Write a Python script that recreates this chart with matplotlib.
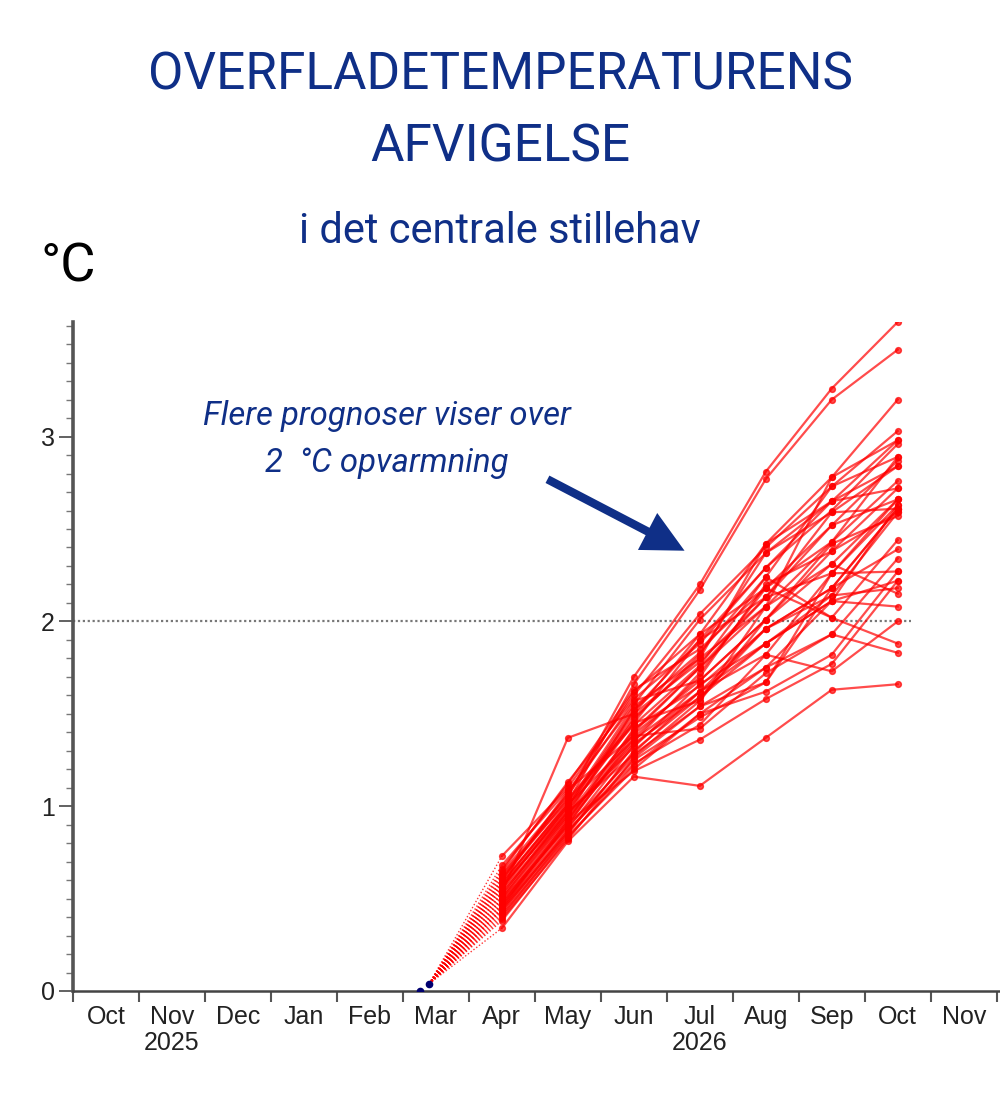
import matplotlib
matplotlib.use('Agg')
import matplotlib.pyplot as plt
import matplotlib.transforms as mtransforms
from matplotlib.patches import FancyArrowPatch
import numpy as np

# Month axis: index 0 = Oct 2025 ... 13 = Nov 2026
months = ['Oct', 'Nov', 'Dec', 'Jan', 'Feb', 'Mar', 'Apr', 'May', 'Jun', 'Jul', 'Aug', 'Sep', 'Oct', 'Nov']
years = ['2025', '2026']
year_pos = [1, 9]

# Observed anomalies (late Feb / early Mar)
obs_x = [4.76, 4.90]
obs_y = [0.00, 0.04]

# Forecast months Apr..Oct 2026
fc_x = [6, 7, 8, 9, 10, 11, 12]

members = [
    [0.62, 1.05, 1.70, 2.20, 2.81, 3.26, 3.62],
    [0.58, 1.02, 1.66, 2.17, 2.77, 3.20, 3.47],
    [0.55, 1.00, 1.50, 1.93, 2.42, 2.78, 3.20],
    [0.73, 1.10, 1.60, 2.04, 2.40, 2.73, 3.03],
    [0.60, 1.08, 1.55, 2.01, 2.37, 2.65, 2.98],
    [0.52, 0.98, 1.45, 1.90, 2.29, 2.60, 2.96],
    [0.50, 0.95, 1.52, 1.83, 2.24, 2.73, 2.89],
    [0.66, 1.12, 1.63, 1.85, 2.18, 2.52, 2.87],
    [0.48, 0.93, 1.40, 1.75, 2.13, 2.59, 2.84],
    [0.56, 0.99, 1.48, 1.80, 2.08, 2.43, 2.76],
    [0.45, 0.90, 1.37, 1.70, 2.20, 2.38, 2.72],
    [0.64, 1.06, 1.57, 1.68, 2.01, 2.31, 2.66],
    [0.53, 1.37, 1.50, 1.78, 2.13, 2.26, 2.63],
    [0.47, 0.92, 1.42, 1.65, 1.96, 2.18, 2.61],
    [0.40, 0.85, 1.30, 1.59, 1.88, 2.14, 2.59],
    [0.61, 1.04, 1.45, 1.57, 2.01, 2.42, 2.57],
    [0.44, 0.88, 1.33, 1.62, 1.82, 2.26, 2.66],
    [0.57, 0.97, 1.28, 1.54, 1.75, 2.11, 2.63],
    [0.50, 0.94, 1.35, 1.72, 2.18, 2.02, 2.44],
    [0.42, 0.86, 1.25, 1.48, 1.67, 2.18, 2.39],
    [0.68, 1.09, 1.38, 1.42, 1.72, 1.93, 2.34],
    [0.38, 0.83, 1.22, 1.50, 1.62, 1.82, 2.27],
    [0.46, 0.91, 1.19, 1.36, 1.58, 1.77, 2.22],
    [0.34, 0.81, 1.16, 1.11, 1.37, 1.63, 1.66],
    [0.59, 1.01, 1.36, 1.62, 1.96, 2.14, 2.18],
    [0.49, 0.89, 1.27, 1.57, 2.08, 2.31, 2.15],
    [0.54, 0.96, 1.32, 1.66, 1.88, 2.11, 2.08],
    [0.43, 0.87, 1.23, 1.44, 1.82, 1.73, 2.00],
    [0.63, 1.03, 1.44, 1.76, 2.24, 2.02, 1.88],
    [0.41, 0.84, 1.20, 1.50, 1.75, 1.93, 1.83],
    [0.65, 1.13, 1.58, 1.88, 2.29, 2.65, 2.72],
    [0.51, 0.97, 1.47, 1.82, 2.37, 2.59, 2.61],
    [0.56, 1.00, 1.52, 1.90, 2.13, 2.52, 2.66],
    [0.47, 0.90, 1.39, 1.68, 2.01, 2.38, 2.59],
    [0.39, 0.82, 1.26, 1.54, 1.67, 2.26, 2.27],
    [0.60, 1.07, 1.62, 1.93, 2.18, 2.43, 2.89],
    [0.45, 0.92, 1.34, 1.59, 1.96, 2.18, 2.61],
    [0.53, 0.95, 1.41, 1.75, 2.08, 2.78, 2.98],
    [0.58, 1.01, 1.54, 1.80, 2.42, 2.65, 2.84],
    [0.44, 0.86, 1.29, 1.62, 1.88, 2.11, 2.22],
]

navy = '#0f2f87'
W, H = 1000, 1100

fig = plt.figure(figsize=(10, 11), dpi=100)
ax = fig.add_axes([0.073, 1 - 991 / H, 0.927, (991 - 322) / H])

# dotted connectors from the last observation to the first forecast month
for m in members:
    ax.plot([obs_x[-1], fc_x[0]], [obs_y[-1], m[0]], color='red', lw=1.0,
            linestyle=(0, (1, 1.5)), alpha=0.8, zorder=2)

# ensemble members
for m in members:
    ax.plot(fc_x, m, color='red', lw=1.6, alpha=0.7, marker='o', ms=4.2,
            mec='red', mfc='red', zorder=3)

# observations
ax.plot(obs_x, obs_y, linestyle='none', marker='o', ms=4.5, color='#000070', zorder=4)

# 2 degree reference line
ax.plot([-0.5, 12.2], [2, 2], color='#777777', lw=1.6, linestyle=(0, (1, 1.2)), zorder=1)

ax.set_xlim(-0.5, 13.55)
ax.set_ylim(0, 3.62)

# x axis: ticks at month boundaries, labels at month centres
ax.set_xticks(np.arange(-0.5, 13.6, 1))
ax.set_xticklabels([])
ax.set_xticks(np.arange(len(months)), minor=True)
ax.set_xticklabels(months, minor=True, fontsize=18, family='Liberation Sans', color='#222222')
ax.tick_params(axis='x', which='major', length=8, width=1.5, color='#555555', direction='out')
ax.tick_params(axis='x', which='minor', length=0, pad=10)

trans = mtransforms.blended_transform_factory(ax.transData, fig.transFigure)
for yr, pos in zip(years, year_pos):
    ax.text(pos, 1 - 1050 / H, yr, transform=trans, ha='center', va='baseline',
            fontsize=18, family='Liberation Sans', color='#222222')

# y axis
ax.set_yticks([0, 1, 2, 3])
ax.set_yticklabels(['0', '1', '2', '3'], fontsize=18, family='Liberation Sans', color='#222222')
ax.set_yticks(np.arange(0, 3.61, 0.1), minor=True)
ax.tick_params(axis='y', which='major', length=10, width=1.3, color='#555555', pad=3)
ax.tick_params(axis='y', which='minor', length=5, width=1.0, color='#777777')

for s in ['top', 'right']:
    ax.spines[s].set_visible(False)
ax.spines['left'].set_linewidth(2.6)
ax.spines['left'].set_color('#555555')
ax.spines['bottom'].set_linewidth(1.8)
ax.spines['bottom'].set_color('#444444')

# titles
fig.text(0.5, 1 - 90 / H, 'OVERFLADETEMPERATURENS', ha='center', va='baseline',
         fontsize=37, family='Roboto', color=navy)
fig.text(0.5, 1 - 162 / H, 'AFVIGELSE', ha='center', va='baseline',
         fontsize=37, family='Roboto', color=navy)
fig.text(0.5, 1 - 243 / H, 'i det centrale stillehav', ha='center', va='baseline',
         fontsize=30, family='Roboto', color=navy)
fig.text(40 / W, 1 - 282 / H, '°C', ha='left', va='baseline',
         fontsize=39, family='Roboto', color='black')

# annotation
fig.text(387 / W, 1 - 425 / H, 'Flere prognoser viser over', ha='center', va='baseline',
         fontsize=23.7, family='Roboto', style='italic', color=navy)
fig.text(387 / W, 1 - 472 / H, '2  °C opvarmning', ha='center', va='baseline',
         fontsize=23.7, family='Roboto', style='italic', color=navy)

arrow = FancyArrowPatch((545, H - 478), (687, H - 552), transform=None,
                        arrowstyle='simple,head_length=1.0,head_width=1.0,tail_width=0.2',
                        mutation_scale=30, color=navy, lw=0)
fig.add_artist(arrow)

fig.savefig('out.png', dpi=100)
